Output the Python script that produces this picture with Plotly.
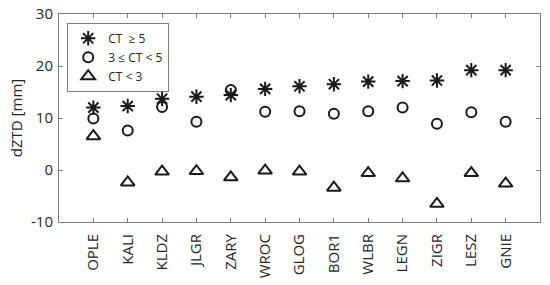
import plotly.graph_objects as go

stations = ["OPLE", "KALI", "KLDZ", "JLGR", "ZARY", "WROC", "GLOG",
            "BOR1", "WLBR", "LEGN", "ZIGR", "LESZ", "GNIE"]
ct_high = [12.0, 12.3, 13.7, 14.1, 14.4, 15.6, 16.1, 16.5, 17.0, 17.1, 17.2, 19.2, 19.2]
ct_mid = [9.9, 7.6, 12.1, 9.3, 15.4, 11.2, 11.3, 10.8, 11.3, 12.0, 8.9, 11.1, 9.3]
ct_low = [6.5, -2.4, -0.3, -0.2, -1.4, -0.1, -0.3, -3.4, -0.6, -1.6, -6.5, -0.6, -2.6]
y_ticks = [-10, 0, 10, 20, 30]
y_ticklabels = ["-10", "0", "10", "20", "30"]

xpos = list(range(1, len(stations) + 1))
axis_col = "#7f7f7f"
txt_col = "#262626"
mk_col = "#1a1a1a"

fig = go.Figure()
fig.add_trace(go.Scatter(x=xpos, y=ct_high, mode="markers", name="CT  \u2265 5",
                         marker=dict(symbol="asterisk-open", size=12, color=mk_col,
                                     line=dict(width=2, color=mk_col))))
fig.add_trace(go.Scatter(x=xpos, y=ct_mid, mode="markers", name="3 \u2264 CT < 5",
                         marker=dict(symbol="circle-open", size=10, color=mk_col,
                                     line=dict(width=2, color=mk_col))))
fig.add_trace(go.Scatter(x=xpos, y=ct_low, mode="markers", name="CT < 3",
                         marker=dict(symbol="triangle-up-open", size=12, color=mk_col,
                                     line=dict(width=2, color=mk_col))))

fig.update_layout(
    width=550, height=285,
    margin=dict(l=59, r=10, t=14, b=63),
    paper_bgcolor="white", plot_bgcolor="white",
    font=dict(family="Open Sans", color=txt_col, size=14),
    legend=dict(x=0.017, y=0.958, xanchor="left", yanchor="top",
                bgcolor="white", bordercolor=axis_col, borderwidth=1,
                font=dict(size=12, color=txt_col), tracegroupgap=0, itemwidth=30),
    xaxis=dict(range=[0, len(stations) + 1], tickmode="array", tickvals=xpos,
               ticktext=stations, tickangle=-90, ticks="inside", ticklen=4,
               tickcolor=axis_col, showline=True, linecolor=axis_col, mirror="ticks",
               showgrid=False, zeroline=False, tickfont=dict(size=15), automargin=False,
               ticklabelstandoff=5),
    yaxis=dict(range=[-10, 30], tickmode="array", tickvals=y_ticks,
               ticktext=y_ticklabels, ticks="inside", ticklen=4,
               tickcolor=axis_col, showline=True, linecolor=axis_col, mirror="ticks",
               showgrid=False, zeroline=False, tickfont=dict(size=15), automargin=False,
               ticklabelstandoff=2,
               title=dict(text="dZTD [mm]", font=dict(size=15), standoff=4)),
)

# drop the default 8px body margin so the figure sits at the page corner
fig.write_html("out.html", config={"displayModeBar": False},
               post_script="document.body.style.margin='0';")
